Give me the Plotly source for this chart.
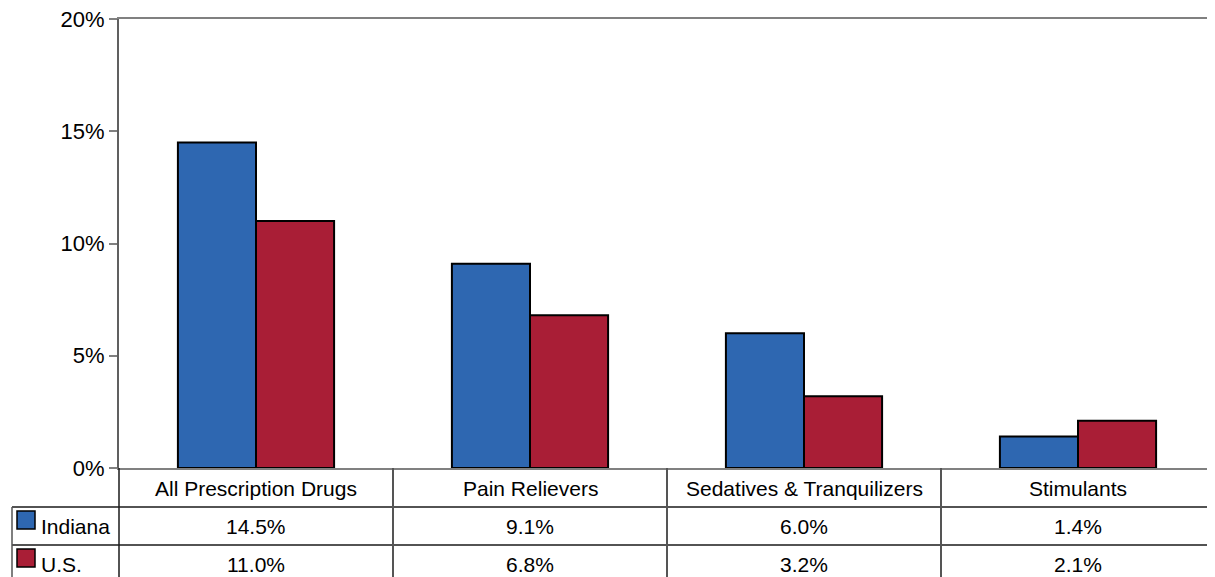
import plotly.graph_objects as go

categories = ["All Prescription Drugs", "Pain Relievers", "Sedatives & Tranquilizers", "Stimulants"]
indiana = [14.5, 9.1, 6.0, 1.4]
us = [11.0, 6.8, 3.2, 2.1]
series_names = ["Indiana", "U.S."]
series_colors = ["#2E67B1", "#A91E36"]
y_ticks = [0, 5, 10, 15, 20]
y_tick_text = [f"{t}%" for t in y_ticks]

# page is offset by the default 8px body margin
OFF = 8
W, H = 1215, 577
PL, PR, PT, PB = 119, 1215, 19, 468   # plot area in page pixels
FONT = "Liberation Sans Narrow, Arial Narrow, Liberation Sans, Arial"


def px_x(px):
    return (px - PL) / (PR - PL)


def px_y(py):
    return (PB - py) / (PB - PT)


fig = go.Figure()
for name, vals, col in zip(series_names, [indiana, us], series_colors):
    fig.add_trace(go.Bar(
        x=categories, y=vals, name=name,
        marker=dict(color=col, line=dict(color="black", width=2)),
        showlegend=False,
    ))

shapes = []
annotations = []

grid_dark = "#1a1a1a"
grid_gray = "#555555"
for py in [507, 545]:
    shapes.append(dict(type="line", xref="paper", yref="paper",
                       x0=px_x(12), x1=px_x(W), y0=px_y(py), y1=px_y(py),
                       line=dict(color=grid_dark, width=1.5)))
shapes.append(dict(type="line", xref="paper", yref="paper",
                   x0=px_x(12), x1=px_x(12), y0=px_y(507), y1=px_y(H + 5),
                   line=dict(color=grid_gray, width=1.5)))
shapes.append(dict(type="line", xref="paper", yref="paper",
                   x0=0, x1=0, y0=0, y1=px_y(H + 5),
                   line=dict(color=grid_dark, width=1.5)))
n = len(categories)
for i in range(1, n):
    shapes.append(dict(type="line", xref="paper", yref="paper",
                       x0=i / n, x1=i / n, y0=0, y1=px_y(H + 5),
                       line=dict(color=grid_gray, width=2)))

txt_font = dict(family=FONT, size=21, color="black")
for c in categories:
    annotations.append(dict(x=c, xref="x", y=px_y(488), yref="paper",
                            yanchor="middle", text=c, showarrow=False, font=txt_font))

row_centers = [526, 564]
swatch_rows = [(511, 529), (549, 567)]
for vals, name, col, yc, (s0, s1) in zip([indiana, us], series_names, series_colors,
                                          row_centers, swatch_rows):
    for c, v in zip(categories, vals):
        annotations.append(dict(x=c, xref="x", y=px_y(yc), yref="paper",
                                yanchor="middle", text=f"{v:.1f}%",
                                showarrow=False, font=txt_font))
    shapes.append(dict(type="rect", xref="paper", yref="paper",
                       x0=px_x(17), x1=px_x(35), y0=px_y(s1), y1=px_y(s0),
                       fillcolor=col, line=dict(color="black", width=1.5)))
    annotations.append(dict(x=px_x(39), xref="paper", y=px_y(yc), yref="paper",
                            xanchor="left", yanchor="middle", text=name,
                            showarrow=False, font=txt_font))

fig.update_layout(
    width=W - OFF, height=H - OFF,
    margin=dict(l=PL - OFF, r=W - PR, t=PT - OFF, b=H - PB, autoexpand=False),
    paper_bgcolor="white", plot_bgcolor="white",
    barmode="group", bargap=0.43, bargroupgap=0,
    font=txt_font,
    xaxis=dict(showticklabels=False, ticks="", showgrid=False,
               showline=True, mirror=True, linecolor="#808080", linewidth=2),
    yaxis=dict(range=[0, 20], tickvals=y_ticks, ticktext=y_tick_text,
               ticks="outside", ticklen=8, tickcolor="#808080", tickwidth=2,
               showgrid=False, zeroline=False, ticklabeloverflow="allow",
               showline=True, linecolor="#606060", linewidth=2,
               tickfont=dict(family=FONT, size=22, color="black")),
    shapes=shapes,
    annotations=annotations,
)

fig.write_html("out.html")
